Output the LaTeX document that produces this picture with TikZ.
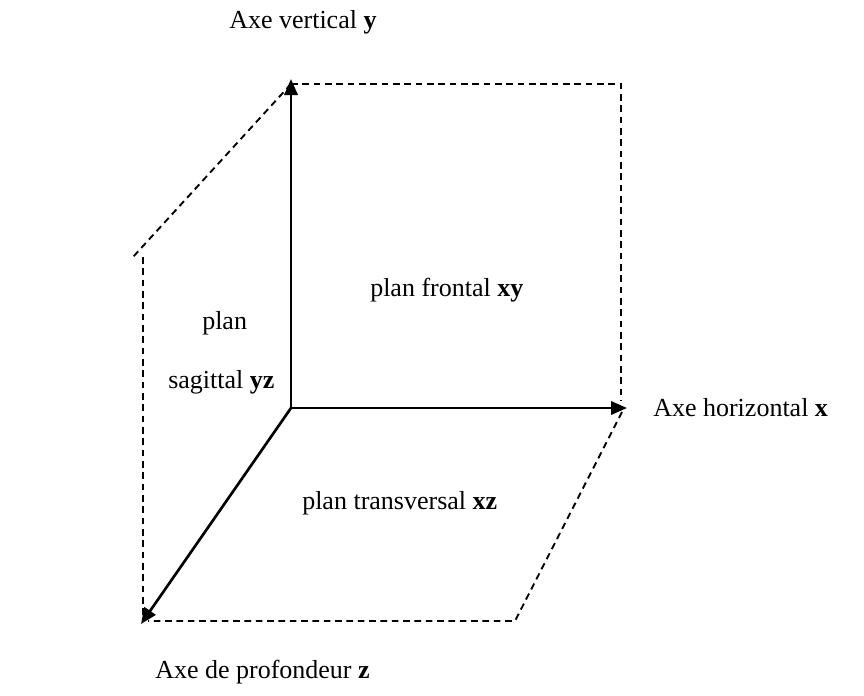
\documentclass[tikz,border=0pt]{standalone}
\usepackage{fontspec}
\setmainfont{Liberation Serif}
\usetikzlibrary{arrows.meta}
\begin{document}
\begin{tikzpicture}[x=0.75pt,y=-0.75pt,
  axis/.style={line width=2pt,-{Triangle[length=12pt,width=10pt]}},
  dashline/.style={line width=1.4pt,dash pattern=on 5pt off 3.5pt},
  lbl/.style={anchor=west,inner sep=0pt,font=\fontsize{19.5}{23}\selectfont}]
\useasboundingbox (0,0) rectangle (864,696);
% axis points
\coordinate (O) at (291,408);
\coordinate (Y) at (291,79);
\coordinate (X) at (627,408);
\coordinate (Z) at (141,624);
% dashed corners
\coordinate (ytop) at (291,84);
\coordinate (tr) at (621,84);
\coordinate (rb) at (621,401);
\coordinate (xd) at (622,412);
\coordinate (br) at (515,621);
\coordinate (bl) at (148,621);
\coordinate (dl) at (133,257);
\coordinate (vl) at (143,257);
\coordinate (vb) at (143,618);
% dashed lines
\draw[dashline] (ytop) -- (tr) -- (rb);
\draw[dashline] (xd) -- (br) -- (bl);
\draw[dashline] (ytop) -- (dl);
\draw[dashline] (vl) -- (vb);
% axes
\draw[axis] (O) -- (Y);
\draw[axis] (O) -- (X);
\draw[axis] (O) -- (Z);
% labels
\node[lbl] (ly) at (229,22) {Axe vertical \textbf{y}};
\node[lbl] (lx) at (653,408) {Axe horizontal \textbf{x}};
\node[lbl] (lz) at (155,672) {Axe de profondeur \textbf{z}};
\node[lbl] (pxy) at (370,290) {plan frontal \textbf{xy}};
\node[lbl] (pyz1) at (202,323) {plan};
\node[lbl] (pyz2) at (168,382) {sagittal \textbf{yz}};
\node[lbl] (pxz) at (302,503) {plan transversal \textbf{xz}};
\end{tikzpicture}
\end{document}
